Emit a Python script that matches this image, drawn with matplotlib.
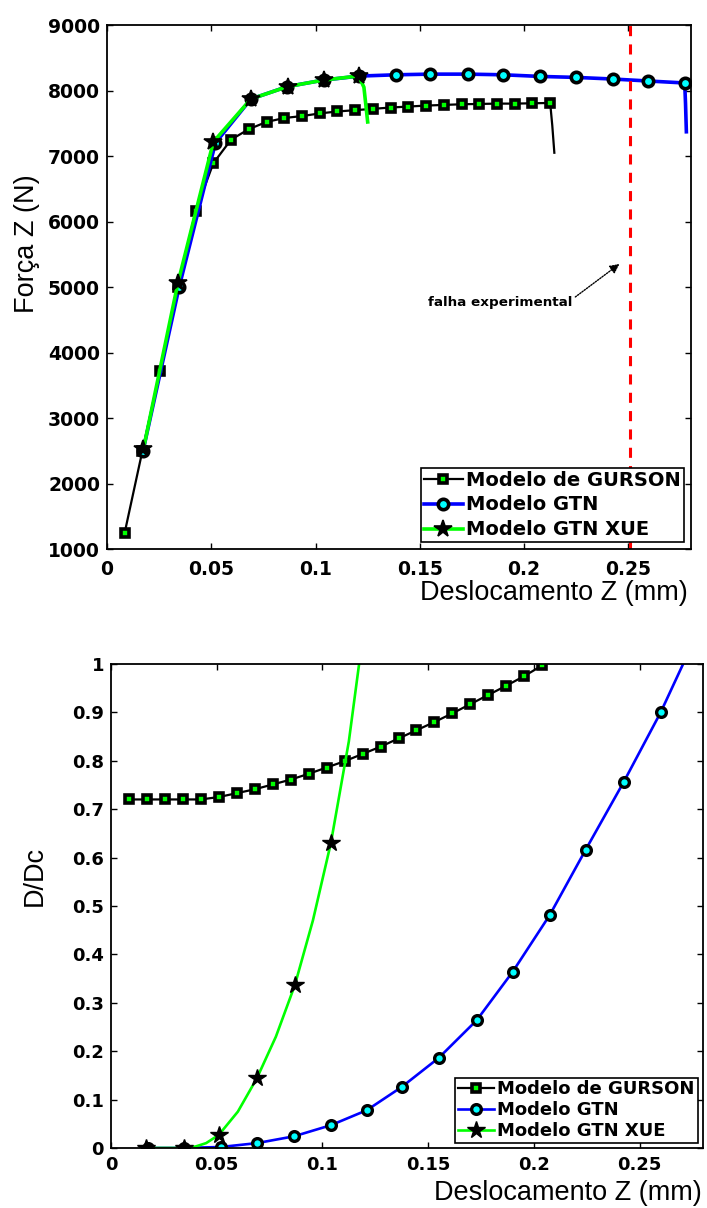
import numpy as np
import matplotlib
matplotlib.use('Agg')
import matplotlib.pyplot as plt

# ---- dados: Força Z x deslocamento ----
gurson_x_f = [0.0085, 0.017, 0.0255, 0.034, 0.0425, 0.051, 0.0595, 0.068, 0.0765, 0.085,
              0.0935, 0.102, 0.1105, 0.119, 0.1275, 0.136, 0.1445, 0.153, 0.1615, 0.17,
              0.1785, 0.187, 0.1955, 0.204, 0.2125, 0.2135, 0.2145]
gurson_f = [1250, 2500, 3720, 5000, 6160, 6890, 7250, 7410, 7520, 7580,
            7610, 7650, 7680, 7700, 7720, 7740, 7755, 7770, 7780, 7790,
            7795, 7800, 7800, 7805, 7810, 7470, 7050]

gtn_x_f = [0.0173, 0.0346, 0.052, 0.069, 0.0865, 0.104, 0.121, 0.1385, 0.155, 0.173,
           0.19, 0.2077, 0.225, 0.2428, 0.2596, 0.277, 0.2774, 0.2778]
gtn_f = [2500, 5000, 7200, 7870, 8060, 8160, 8220, 8240, 8250, 8250,
         8240, 8215, 8200, 8175, 8145, 8115, 7800, 7370]

xue_x_f = [0.0175, 0.034, 0.051, 0.069, 0.0866, 0.104, 0.1207, 0.1232, 0.125]
xue_f = [2530, 5060, 7215, 7870, 8060, 8160, 8222, 8050, 7520]

falha_x = 0.251

# ---- dados: D/Dc x deslocamento ----
gurson_x_d = [0.0085, 0.017, 0.0255, 0.034, 0.0425, 0.051, 0.0595, 0.068, 0.0765, 0.085,
              0.0935, 0.102, 0.1105, 0.119, 0.1275, 0.136, 0.1445, 0.153, 0.1615, 0.17,
              0.1785, 0.187, 0.1955, 0.204]
gurson_d = [0.72, 0.72, 0.72, 0.72, 0.72, 0.725, 0.733, 0.741, 0.751, 0.761,
            0.773, 0.786, 0.799, 0.814, 0.829, 0.846, 0.863, 0.880, 0.898, 0.917,
            0.936, 0.955, 0.975, 0.997]

gtn_x_d = [0.0173, 0.0346, 0.052, 0.069, 0.0865, 0.104, 0.121, 0.1375, 0.155, 0.173,
           0.19, 0.2075, 0.2245, 0.2425, 0.26, 0.277]
gtn_d = [0, 0, 0.002, 0.01, 0.024, 0.047, 0.078, 0.126, 0.186, 0.264,
         0.364, 0.481, 0.616, 0.756, 0.90, 1.06]

xue_x_d = [0.0165, 0.0345, 0.04, 0.045, 0.051, 0.06, 0.069, 0.078, 0.087, 0.0955,
           0.104, 0.1125, 0.121]
xue_d = [0, 0, 0.003, 0.01, 0.027, 0.075, 0.144, 0.23, 0.337, 0.47,
         0.63, 0.84, 1.12]
xue_marks_d = [0, 1, 4, 6, 8, 10, 12]

labels = ['Modelo de GURSON', 'Modelo GTN', 'Modelo GTN XUE']
xticks = [0, 0.05, 0.1, 0.15, 0.2, 0.25]
xticklabels = ['0', '0.05', '0.1', '0.15', '0.2', '0.25']

plt.rcParams['font.family'] = ['DejaVu Sans']
GREEN = '#00ff00'
BLUE = '#0000ff'
CYAN = '#00ffff'

fig = plt.figure(figsize=(7.07, 12.08), dpi=100)
ax1 = fig.add_axes([0.1513, 0.5455, 0.826, 0.4338])
ax2 = fig.add_axes([0.157, 0.0497, 0.8373, 0.4007])


def estilo(ax, tsize, xpad, ypad):
    for s in ax.spines.values():
        s.set_linewidth(1.3)
    ax.tick_params(direction='in', top=True, right=True, length=4, width=1,
                   labelsize=tsize)
    ax.tick_params(axis='x', pad=xpad)
    ax.tick_params(axis='y', pad=ypad)
    for t in ax.get_xticklabels() + ax.get_yticklabels():
        t.set_fontweight('bold')


# ---- gráfico de cima ----
ax1.plot(gurson_x_f, gurson_f, '-s', color='k', lw=1.6, ms=6, mfc=GREEN, mec='k', mew=2.6,
         markevery=list(range(25)), label=labels[0])
ax1.plot(gtn_x_f, gtn_f, '-o', color=BLUE, lw=2.6, ms=7.5, mfc=CYAN, mec='k', mew=2.6,
         markevery=list(range(16)), label=labels[1])
ax1.plot(xue_x_f, xue_f, '-*', color=GREEN, lw=2.6, ms=13, mfc='k', mec='k', mew=1.2,
         markevery=list(range(7)), label=labels[2])
ax1.axvline(falha_x, color='red', lw=2.2, linestyle=(0, (3.3, 2.7)))
ax1.annotate('falha experimental', xy=(0.2457, 5352), xytext=(0.154, 4757),
             ha='left', va='center', fontsize=9.7, fontweight='bold',
             arrowprops=dict(arrowstyle='-|>', color='k', lw=1, linestyle=(0, (1, 1)),
                             mutation_scale=14, shrinkA=0, shrinkB=0, relpos=(1.0, 0.8)))
ax1.set_xlim(0, 0.28)
ax1.set_ylim(1000, 9000)
ax1.set_xticks(xticks, xticklabels)
ax1.set_yticks(np.arange(1000, 9001, 1000))
estilo(ax1, 13.5, 8, 5)
ax1.set_xlabel('Deslocamento Z (mm)', family='Liberation Sans', fontsize=19.5,
               ha='right', va='center')
ax1.xaxis.set_label_coords(0.995, -0.084)
ax1.set_ylabel('Força Z (N)', family='Liberation Sans', fontsize=19.5, va='center')
ax1.yaxis.set_label_coords(-0.137, 0.582)
leg1 = ax1.legend(loc='lower right', prop={'weight': 'bold', 'size': 14},
                  fancybox=False, framealpha=1, edgecolor='k', borderpad=0.15,
                  labelspacing=0.3, handlelength=2.0, handletextpad=0.2,
                  borderaxespad=0.35)
leg1.get_frame().set_linewidth(1.2)

# ---- gráfico de baixo ----
ax2.plot(gurson_x_d, gurson_d, '-s', color='k', lw=1.6, ms=6, mfc=GREEN, mec='k', mew=2.6,
         label=labels[0])
ax2.plot(gtn_x_d, gtn_d, '-o', color=BLUE, lw=1.9, ms=7, mfc=CYAN, mec='k', mew=2.4,
         label=labels[1])
ax2.plot(xue_x_d, xue_d, '-*', color=GREEN, lw=1.9, ms=13, mfc='k', mec='k', mew=1,
         markevery=xue_marks_d, label=labels[2])
ax2.set_xlim(0, 0.28)
ax2.set_ylim(0, 1)
ax2.set_xticks(xticks, xticklabels)
ax2.set_yticks(np.arange(0, 1.01, 0.1), ['0', '0.1', '0.2', '0.3', '0.4', '0.5',
                                          '0.6', '0.7', '0.8', '0.9', '1'])
estilo(ax2, 13, 6, 5)
ax2.set_xlabel('Deslocamento Z (mm)', family='Liberation Sans', fontsize=19.5,
               ha='right', va='center')
ax2.xaxis.set_label_coords(0.998, -0.093)
ax2.set_ylabel('D/Dc', family='Liberation Sans', fontsize=19.5, va='center')
ax2.yaxis.set_label_coords(-0.128, 0.562)
leg2 = ax2.legend(loc='lower right', prop={'weight': 'bold', 'size': 13},
                  fancybox=False, framealpha=1, edgecolor='k', borderpad=0.15,
                  labelspacing=0.15, handlelength=2.0, handletextpad=0.2,
                  borderaxespad=0.3)
leg2.get_frame().set_linewidth(1.2)

fig.savefig('out.png', dpi=100)
